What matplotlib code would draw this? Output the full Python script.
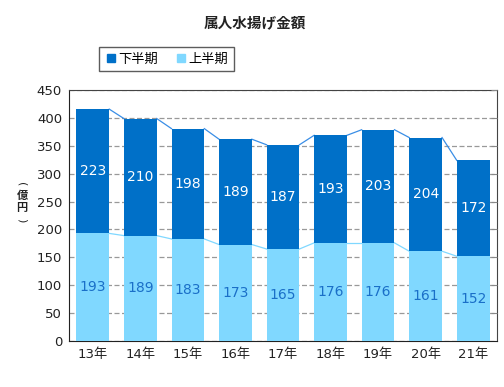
import matplotlib
matplotlib.use("Agg")
import matplotlib.pyplot as plt
from matplotlib.lines import Line2D
import numpy as np

plt.rcParams['font.family'] = ['DejaVu Sans', 'Noto Sans CJK JP']

# データ（億円）
years = ["13年", "14年", "15年", "16年", "17年", "18年", "19年", "20年", "21年"]
kami = [193, 189, 183, 173, 165, 176, 176, 161, 152]   # 上半期
shimo = [223, 210, 198, 189, 187, 193, 203, 204, 172]  # 下半期

c_dark = "#0070c8"
c_light = "#80d8ff"

fig = plt.figure(figsize=(5.04, 3.87), dpi=100)
ax = fig.add_axes([0.137, 0.119, 0.849, 0.648])

x = np.arange(len(years))
w = 0.69
kami = np.array(kami)
shimo = np.array(shimo)
total = kami + shimo

ax.bar(x, kami, w, color=c_light, zorder=3, label="上半期")
ax.bar(x, shimo, w, bottom=kami, color=c_dark, zorder=3, label="下半期")

# 系列線
for i in range(len(x) - 1):
    ax.plot([x[i] + w / 2, x[i + 1] - w / 2], [total[i], total[i + 1]],
            color="#3a8ee6", lw=0.9, zorder=2)
    ax.plot([x[i] + w / 2, x[i + 1] - w / 2], [kami[i], kami[i + 1]],
            color=c_light, lw=0.9, zorder=2)

# 値ラベル
for i in range(len(x)):
    ax.text(x[i], kami[i] / 2, str(kami[i]), ha="center", va="center",
            color="#1a6fc8", fontsize=10, zorder=4)
    ax.text(x[i], kami[i] + shimo[i] / 2, str(shimo[i]), ha="center", va="center",
            color="white", fontsize=10, zorder=4)

ax.set_xlim(-0.5, len(x) - 0.5)
ax.set_ylim(0, 450)
ax.set_yticks(range(0, 451, 50))
ax.set_xticks(x)
ax.set_xticklabels(years)
ax.tick_params(axis="both", length=0, labelsize=9.5, colors="#222222")
ax.tick_params(axis="y", pad=5)
ax.tick_params(axis="x", pad=5)
ax.grid(axis="y", linestyle=(0, (4, 2)), color="#999999", lw=0.9, zorder=1)

for s in ["top", "right"]:
    ax.spines[s].set_color("#444444")
for s in ["left", "bottom"]:
    ax.spines[s].set_color("#222222")

# 右側の目盛り（内向き）
ax2 = ax.twinx()
ax2.set_ylim(0, 450)
ax2.set_yticks(range(50, 451, 50))
ax2.tick_params(axis="y", direction="in", length=4, color="#888888", labelright=False)
for s in ax2.spines.values():
    s.set_visible(False)

fig.text(0.506, 0.943, "属人水揚げ金額", ha="center", va="center", fontsize=10.5,
         fontweight="bold", color="#222222", family=["Noto Sans CJK JP"])

# 縦書きの単位
yl_x = 22 / 504
fig.text(yl_x, 1 - 184 / 387, "(", rotation=-90, ha="center", va="center",
         fontsize=8, color="#222222")
fig.text(yl_x, 1 - 196 / 387, "億", ha="center", va="center",
         fontsize=8, fontweight="bold", color="#222222", family=["Noto Sans CJK JP"])
fig.text(yl_x, 1 - 208 / 387, "円", ha="center", va="center",
         fontsize=8, fontweight="bold", color="#222222", family=["Noto Sans CJK JP"])
fig.text(yl_x, 1 - 220 / 387, ")", rotation=-90, ha="center", va="center",
         fontsize=8, color="#222222")

handles = [Line2D([], [], marker="s", ls="", color=c_dark, markersize=6),
           Line2D([], [], marker="s", ls="", color=c_light, markersize=6)]
leg = fig.legend(handles, ["下半期", "上半期"], loc="center", bbox_to_anchor=(0.330, 0.847),
                 ncol=2, frameon=True, fancybox=False, handletextpad=0.1,
                 columnspacing=1.2, borderpad=0.4, handlelength=1.0,
                 prop={"family": ["Noto Sans CJK JP"], "size": 9.5})
leg.get_frame().set_edgecolor("#333333")
leg.get_frame().set_linewidth(1.0)

fig.savefig("out.png", dpi=100)
